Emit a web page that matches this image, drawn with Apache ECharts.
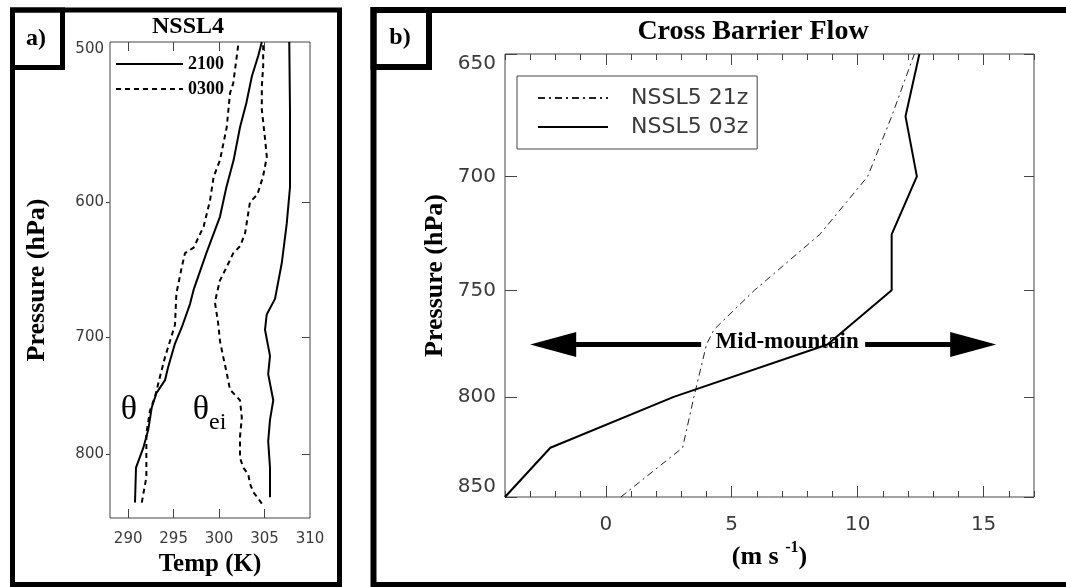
<!DOCTYPE html>
<html>
<head>
<meta charset="utf-8">
<script src="https://cdn.jsdelivr.net/npm/echarts@6/dist/echarts.min.js"></script>
<style>
html, body { margin: 0; padding: 0; background: #fff; }
#chart { width: 1066px; height: 587px; }
</style>
</head>
<body>
<div id="chart"></div>
<script>
// panel a) NSSL4 soundings: pressure (hPa) / temperature (K)
const thetaP21 = [845, 812, 794, 778, 758, 746, 735, 724, 705, 692, 674, 663, 636, 610, 590, 572, 551, 536, 520, 508, 500]
const thetaT21 = [290.75, 290.86, 291.66, 292.2, 292.6, 293.1, 294.05, 294.4, 295.15, 295.9, 296.8, 297.2, 298.6, 300.1, 300.8, 301.6, 302.3, 303.0, 303.6, 304.3, 304.7]
const thetaP03 = [845, 837, 821, 803, 781, 761, 749, 732, 716, 703, 690, 666, 646, 636, 632, 617, 599, 583, 572, 551, 530, 524, 500]
const thetaT03 = [291.5, 291.66, 292.0, 292.0, 292.0, 292.4, 292.95, 293.5, 294.05, 294.6, 295.15, 295.3, 295.9, 296.25, 297.2, 298.3, 299.0, 299.4, 300.1, 300.84, 301.2, 301.56, 302.15]
const thetaeP21 = [840, 812, 788, 769, 752, 730, 715, 694, 682, 670, 643, 615, 590, 541, 500]
const thetaeT21 = [305.6, 305.6, 305.4, 305.6, 305.96, 305.4, 305.6, 305.05, 305.24, 306.15, 306.9, 307.44, 307.8, 307.8, 307.72]
const thetaeP03 = [846, 841, 835, 827, 818, 812, 803, 784, 767, 752, 743, 729, 716, 703, 689, 673, 666, 656, 646, 636, 631, 622, 608, 600, 595, 583, 570, 558, 540, 526, 514, 500]
const thetaeT03 = [304.7, 304.3, 303.76, 303.4, 303.2, 302.66, 302.3, 302.3, 302.5, 302.3, 301.2, 300.84, 300.46, 300.1, 299.9, 299.55, 299.74, 300.1, 300.84, 301.56, 302.3, 302.85, 303.2, 303.4, 304.2, 304.83, 305.25, 305.05, 304.7, 304.7, 304.85, 304.85]
const tempTicks = [290, 295, 300, 305, 310]
const presTicksA = [500, 600, 700, 800]

// panel b) cross barrier flow (m/s)
const flowP03 = [850, 825, 800, 775, 750, 725, 700, 675, 650]
const flowU03 = [-4.0, -2.2, 2.7, 8.8, 11.35, 11.35, 12.35, 11.9, 12.45]
const flowP21 = [850, 825, 800, 775, 768, 750, 725, 700, 675, 650]
const flowU21 = [0.6, 3.05, 3.5, 4.0, 4.3, 5.9, 8.5, 10.4, 11.35, 12.25]
const speedTicks = [0, 5, 10, 15]
const presTicksB = [650, 700, 750, 800, 850]

// mid-mountain annotation
const midP = 775
const arrowTips = [-3, 15.5]
const midLabelU = 7.2

const lg = v => Math.log10(v)
const pairs = (p, x) => p.map((v, i) => [x[i], lg(v)])
const presFmt = v => Math.round(Math.pow(10, v))

const SERIF = '"Liberation Serif", "Times New Roman", serif'
const SANS = '"DejaVu Sans", sans-serif'
const AX = '#444'
const TICKTXT = '#3a3a3a'

const noLine = {show: false, onZero: false}
const noSplit = {show: false}

const chart = echarts.init(document.getElementById('chart'))

const option = {
  animation: false,
  grid: [
	{left: 110, top: 42, width: 200, height: 476, show: true, borderColor: AX, borderWidth: 1},
	{left: 505, top: 54, width: 529, height: 443, show: true, borderColor: AX, borderWidth: 1},
  ],
  xAxis: [
	{
	  gridIndex: 0, type: 'value', position: 'bottom', min: 288, max: 310,
	  axisLine: noLine, splitLine: noSplit,
	  axisTick: {inside: true, length: 9, customValues: tempTicks.slice(0, 4), lineStyle: {color: AX}},
	  axisLabel: {customValues: tempTicks, margin: 14, fontSize: 15, fontFamily: SANS, color: TICKTXT},
	  name: 'Temp (K)', nameLocation: 'middle', nameGap: 33,
	  nameTextStyle: {fontSize: 25, fontWeight: 'bold', fontFamily: SERIF, color: '#000'},
	},
	{
	  gridIndex: 0, type: 'value', position: 'top', min: 288, max: 310,
	  axisLine: noLine, splitLine: noSplit, axisLabel: {show: false},
	  axisTick: {inside: true, length: 9, customValues: tempTicks.slice(0, 4), lineStyle: {color: AX}},
	},
	{
	  gridIndex: 1, type: 'value', position: 'bottom', min: -4, max: 17, interval: 1,
	  axisLine: noLine, splitLine: noSplit, axisLabel: {show: false},
	  axisTick: {inside: true, length: 6, lineStyle: {color: AX}},
	},
	{
	  gridIndex: 1, type: 'value', position: 'bottom', min: -4, max: 17,
	  axisLine: noLine, splitLine: noSplit,
	  axisTick: {inside: true, length: 11, customValues: speedTicks, lineStyle: {color: AX}},
	  axisLabel: {customValues: speedTicks, margin: 18, fontSize: 20, fontFamily: SANS, color: TICKTXT},
	  name: '{n|(m s }{sup|-1}{n|)}', nameLocation: 'middle', nameGap: 37,
	  nameTextStyle: {
		rich: {
		  n: {fontSize: 26, fontWeight: 'bold', fontFamily: SERIF, color: '#000', lineHeight: 30, verticalAlign: 'bottom'},
		  sup: {fontSize: 16, fontWeight: 'bold', fontFamily: SERIF, color: '#000', verticalAlign: 'top', lineHeight: 30},
		},
	  },
	},
	{
	  gridIndex: 1, type: 'value', position: 'top', min: -4, max: 17, interval: 1,
	  axisLine: noLine, splitLine: noSplit, axisLabel: {show: false},
	  axisTick: {inside: true, length: 6, lineStyle: {color: AX}},
	},
	{
	  gridIndex: 1, type: 'value', position: 'top', min: -4, max: 17,
	  axisLine: noLine, splitLine: noSplit, axisLabel: {show: false},
	  axisTick: {inside: true, length: 11, customValues: speedTicks, lineStyle: {color: AX}},
	},
  ],
  yAxis: [
	{
	  gridIndex: 0, type: 'value', position: 'left', inverse: true, min: lg(500), max: lg(860),
	  axisLine: noLine, splitLine: noSplit,
	  axisTick: {inside: false, length: 4, customValues: presTicksA.slice(1).map(lg), lineStyle: {color: AX}},
	  axisLabel: {
		customValues: presTicksA.map(lg), formatter: presFmt, margin: 6,
		fontSize: 15, fontFamily: SANS, color: TICKTXT, verticalAlignMinLabel: 'top',
	  },
	  name: 'Pressure (hPa)', nameLocation: 'middle', nameGap: 60,
	  nameTextStyle: {fontSize: 26, fontWeight: 'bold', fontFamily: SERIF, color: '#000'},
	},
	{
	  gridIndex: 0, type: 'value', position: 'right', inverse: true, min: lg(500), max: lg(860),
	  axisLine: noLine, splitLine: noSplit, axisLabel: {show: false},
	  axisTick: {inside: true, length: 8, customValues: presTicksA.slice(1).map(lg), lineStyle: {color: AX}},
	},
	{
	  gridIndex: 1, type: 'value', position: 'left', inverse: true, min: lg(650), max: lg(850),
	  axisLine: noLine, splitLine: noSplit,
	  axisTick: {inside: true, length: 12, customValues: presTicksB.map(lg), lineStyle: {color: AX}},
	  axisLabel: {
		customValues: presTicksB.map(lg), formatter: presFmt, margin: 9,
		fontSize: 20, fontFamily: SANS, color: TICKTXT,
		verticalAlignMinLabel: 'top', verticalAlignMaxLabel: 'bottom',
	  },
	  name: 'Pressure (hPa)', nameLocation: 'middle', nameGap: 57,
	  nameTextStyle: {fontSize: 26, fontWeight: 'bold', fontFamily: SERIF, color: '#000'},
	},
	{
	  gridIndex: 1, type: 'value', position: 'right', inverse: true, min: lg(650), max: lg(850),
	  axisLine: noLine, splitLine: noSplit, axisLabel: {show: false},
	  axisTick: {inside: true, length: 10, customValues: presTicksB.map(lg), lineStyle: {color: AX}},
	},
  ],
  legend: [
	{
	  data: ['2100', '0300'], orient: 'vertical', left: 115, top: 55, padding: 0,
	  itemWidth: 67, itemHeight: 14, itemGap: 7, itemStyle: {opacity: 0},
	  textStyle: {fontSize: 18, fontWeight: 'bold', fontFamily: SERIF, color: '#000'},
	},
	{
	  data: ['NSSL5 21z', 'NSSL5 03z'], orient: 'vertical', left: 517, top: 76,
	  padding: [11, 9, 11, 20], borderColor: AX, borderWidth: 1,
	  itemWidth: 70, itemHeight: 14, itemGap: 7, itemStyle: {opacity: 0},
	  textStyle: {fontSize: 22, fontFamily: SANS, color: TICKTXT, padding: [0, 0, 0, 18]},
	},
  ],
  series: [
	{name: '2100', type: 'line', xAxisIndex: 0, yAxisIndex: 0, symbol: 'none', data: pairs(thetaP21, thetaT21), itemStyle: {color: '#000'}, lineStyle: {color: '#000', width: 2}},
	{name: '0300', type: 'line', xAxisIndex: 0, yAxisIndex: 0, symbol: 'none', data: pairs(thetaP03, thetaT03), itemStyle: {color: '#000'}, lineStyle: {color: '#000', width: 2, type: [5, 4]}},
	{name: '2100', type: 'line', xAxisIndex: 0, yAxisIndex: 0, symbol: 'none', data: pairs(thetaeP21, thetaeT21), itemStyle: {color: '#000'}, lineStyle: {color: '#000', width: 2}},
	{name: '0300', type: 'line', xAxisIndex: 0, yAxisIndex: 0, symbol: 'none', data: pairs(thetaeP03, thetaeT03), itemStyle: {color: '#000'}, lineStyle: {color: '#000', width: 2, type: [5, 4]}},
	{name: 'NSSL5 21z', type: 'line', xAxisIndex: 2, yAxisIndex: 2, symbol: 'none', data: pairs(flowP21, flowU21), itemStyle: {color: '#222'}, lineStyle: {color: '#222', width: 1, type: [7, 4, 2, 4]}},
	{name: 'NSSL5 03z', type: 'line', xAxisIndex: 2, yAxisIndex: 2, symbol: 'none', data: pairs(flowP03, flowU03), itemStyle: {color: '#000'}, lineStyle: {color: '#000', width: 2}},
  ],
}

chart.setOption(option)

// frames, panel labels, titles and the mid-mountain arrows
const [xL, yM] = chart.convertToPixel({seriesIndex: 4}, [arrowTips[0], lg(midP)])
const [xR] = chart.convertToPixel({seriesIndex: 4}, [arrowTips[1], lg(midP)])
const [xT] = chart.convertToPixel({seriesIndex: 4}, [midLabelU, lg(midP)])

const txt = (x, y, text, size, extra) => ({
  type: 'text', x, y, silent: true,
  style: Object.assign({text, fontSize: size, fontWeight: 'bold', fontFamily: SERIF, fill: '#000', align: 'center', verticalAlign: 'middle'}, extra || {}),
})
const box = (x, y, w, h, lw) => ({type: 'rect', shape: {x, y, width: w, height: h}, style: {fill: null, stroke: '#000', lineWidth: lw}, silent: true})

chart.setOption({
  graphic: [
	box(12.5, 10, 327, 574.5, 5),
	box(12.5, 10, 50, 57.5, 5),
	box(373.5, 10, 700, 575, 6),
	box(373.5, 10, 55.5, 57, 6),
	txt(36, 39, 'a)', 24),
	txt(400, 38, 'b)', 24),
	txt(188, 27, 'NSSL4', 24),
	txt(753, 32, 'Cross Barrier Flow', 28),
	txt(129, 410, 'θ', 34, {fontWeight: 'normal'}),
	txt(201, 410, 'θ', 34, {fontWeight: 'normal'}),
	txt(209, 423, 'ei', 24, {fontWeight: 'normal', align: 'left'}),
	txt(xT, yM - 2, 'Mid-mountain', 23),
	{type: 'line', shape: {x1: xL + 44, y1: yM, x2: xT - 86, y2: yM}, style: {stroke: '#000', lineWidth: 5}, silent: true},
	{type: 'polygon', shape: {points: [[xL, yM], [xL + 46, yM - 12.5], [xL + 46, yM + 12.5]]}, style: {fill: '#000'}, silent: true},
	{type: 'line', shape: {x1: xT + 78, y1: yM, x2: xR - 44, y2: yM}, style: {stroke: '#000', lineWidth: 5}, silent: true},
	{type: 'polygon', shape: {points: [[xR, yM], [xR - 46, yM - 12.5], [xR - 46, yM + 12.5]]}, style: {fill: '#000'}, silent: true},
  ],
})
</script>
</body>
</html>
